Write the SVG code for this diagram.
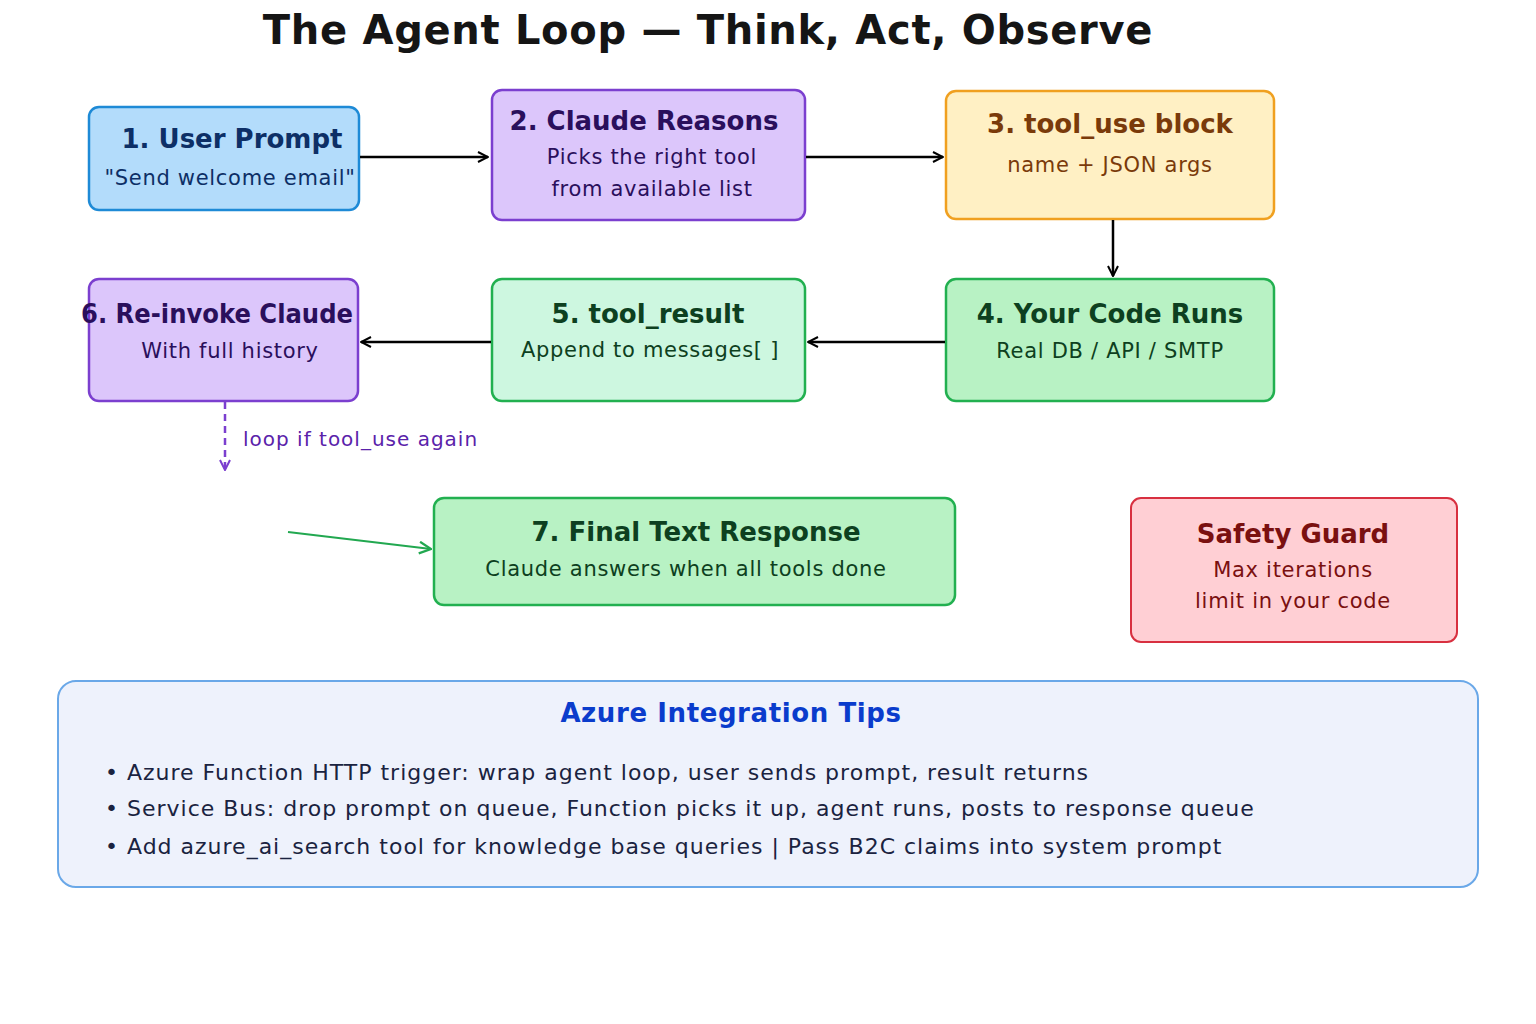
<svg xmlns="http://www.w3.org/2000/svg" width="1536" height="1024" viewBox="0 0 1536 1024">
<defs>
<style>
text{font-family:"DejaVu Sans","Noto Sans",sans-serif;text-anchor:middle}
.t{font-weight:bold;font-size:26px}
.s{font-size:21px;letter-spacing:0.7px}
.b{font-size:22px;text-anchor:start;fill:#1a2340;letter-spacing:1px}
.box{stroke-width:2.5}
</style>
<marker id="ab" viewBox="0 0 12 12" refX="11" refY="6" markerWidth="12" markerHeight="12" markerUnits="userSpaceOnUse" orient="auto"><path d="M1,1 L11,6 L1,11" fill="none" stroke="#000" stroke-width="2"/></marker>
<marker id="ap" viewBox="0 0 12 12" refX="11" refY="6" markerWidth="12" markerHeight="12" markerUnits="userSpaceOnUse" orient="auto"><path d="M1,1 L11,6 L1,11" fill="none" stroke="#7b3fcf" stroke-width="2"/></marker>
<marker id="ag" viewBox="0 0 12 12" refX="11" refY="6" markerWidth="14" markerHeight="14" markerUnits="userSpaceOnUse" orient="auto"><path d="M1,1 L11,6 L1,11" fill="none" stroke="#22a850" stroke-width="2"/></marker>
</defs>
<rect width="1536" height="1024" fill="#fff"/>
<text x="708" y="44" style="font-weight:bold;font-size:40px;letter-spacing:0.7px" fill="#151515">The Agent Loop — Think, Act, Observe</text>

<g id="n1"><rect class="box" x="89" y="107" width="270" height="103" rx="10" fill="#b3dcfb" stroke="#1e8ad6"/>
<text class="t" x="232" y="148" fill="#0d2f66">1. User Prompt</text><text class="s" x="230" y="185" fill="#0d2f66">"Send welcome email"</text></g>
<g id="n2"><rect class="box" x="492" y="90" width="313" height="130" rx="10" fill="#dcc6fb" stroke="#7b3fcf"/>
<text class="t" x="644" y="130" fill="#2a0f5c">2. Claude Reasons</text><text class="s" x="652" y="164" fill="#2a0f5c">Picks the right tool</text><text class="s" x="652" y="196" fill="#2a0f5c">from available list</text></g>
<g id="n3"><rect class="box" x="946" y="91" width="328" height="128" rx="10" fill="#fff0c4" stroke="#f0a020"/>
<text class="t" x="1110" y="133" fill="#7a3a0a">3. tool_use block</text><text class="s" x="1110" y="172" fill="#7a3a0a">name + JSON args</text></g>
<g id="n4"><rect class="box" x="946" y="279" width="328" height="122" rx="10" fill="#b8f2c4" stroke="#22b050"/>
<text class="t" x="1110" y="323" fill="#0d4020">4. Your Code Runs</text><text class="s" x="1110" y="358" fill="#0d4020">Real DB / API / SMTP</text></g>
<g id="n5"><rect class="box" x="492" y="279" width="313" height="122" rx="10" fill="#cdf7e0" stroke="#22b050"/>
<text class="t" x="648" y="323" fill="#0d4020">5. tool_result</text><text class="s" x="650" y="357" fill="#0d4020">Append to messages[ ]</text></g>
<g id="n6"><rect class="box" x="89" y="279" width="269" height="122" rx="10" fill="#dcc6fb" stroke="#7b3fcf"/>
<text class="t" x="217" y="323" fill="#2a0f5c" textLength="272" lengthAdjust="spacingAndGlyphs">6. Re-invoke Claude</text><text class="s" x="230" y="358" fill="#2a0f5c">With full history</text></g>
<g id="n7"><rect class="box" x="434" y="498" width="521" height="107" rx="10" fill="#b8f2c4" stroke="#22b050"/>
<text class="t" x="696" y="541" fill="#0d4020">7. Final Text Response</text><text class="s" x="686" y="576" fill="#0d4020">Claude answers when all tools done</text></g>
<g id="safety"><rect x="1131" y="498" width="326" height="144" rx="10" fill="#ffcfd4" stroke="#d83040" stroke-width="2"/>
<text class="t" x="1293" y="543" fill="#7a1010">Safety Guard</text><text class="s" x="1293" y="577" fill="#7a1010">Max iterations</text><text class="s" x="1293" y="608" fill="#7a1010">limit in your code</text></g>
<g id="azure"><rect x="58" y="681" width="1420" height="206" rx="18" fill="#eef2fc" stroke="#6aa8e8" stroke-width="2"/>
<text x="731" y="722" style="font-weight:bold;font-size:26px;letter-spacing:0.6px" fill="#0a3ccc">Azure Integration Tips</text>
<text class="b" x="105" y="780">•  Azure Function HTTP trigger: wrap agent loop, user sends prompt, result returns</text>
<text class="b" x="105" y="816">•  Service Bus: drop prompt on queue, Function picks it up, agent runs, posts to response queue</text>
<text class="b" x="105" y="854">•  Add azure_ai_search tool for knowledge base queries | Pass B2C claims into system prompt</text></g>
<g id="connectors" fill="none" stroke-width="2.5">
<line x1="360" y1="157" x2="488" y2="157" stroke="#000" marker-end="url(#ab)"/>
<line x1="806" y1="157" x2="943" y2="157" stroke="#000" marker-end="url(#ab)"/>
<line x1="1113" y1="220" x2="1113" y2="276" stroke="#000" marker-end="url(#ab)"/>
<line x1="945" y1="342" x2="808" y2="342" stroke="#000" marker-end="url(#ab)"/>
<line x1="491" y1="342" x2="361" y2="342" stroke="#000" marker-end="url(#ab)"/>
<line x1="225" y1="402" x2="225" y2="470" stroke="#7b3fcf" stroke-dasharray="7,5" marker-end="url(#ap)"/>
<line x1="288" y1="532" x2="431" y2="549" stroke="#22a850" stroke-width="2" marker-end="url(#ag)"/>
<text x="243" y="446" style="font-size:20px;text-anchor:start;letter-spacing:1px" fill="#5a22aa" stroke="none">loop if tool_use again</text>
</g>
</svg>
